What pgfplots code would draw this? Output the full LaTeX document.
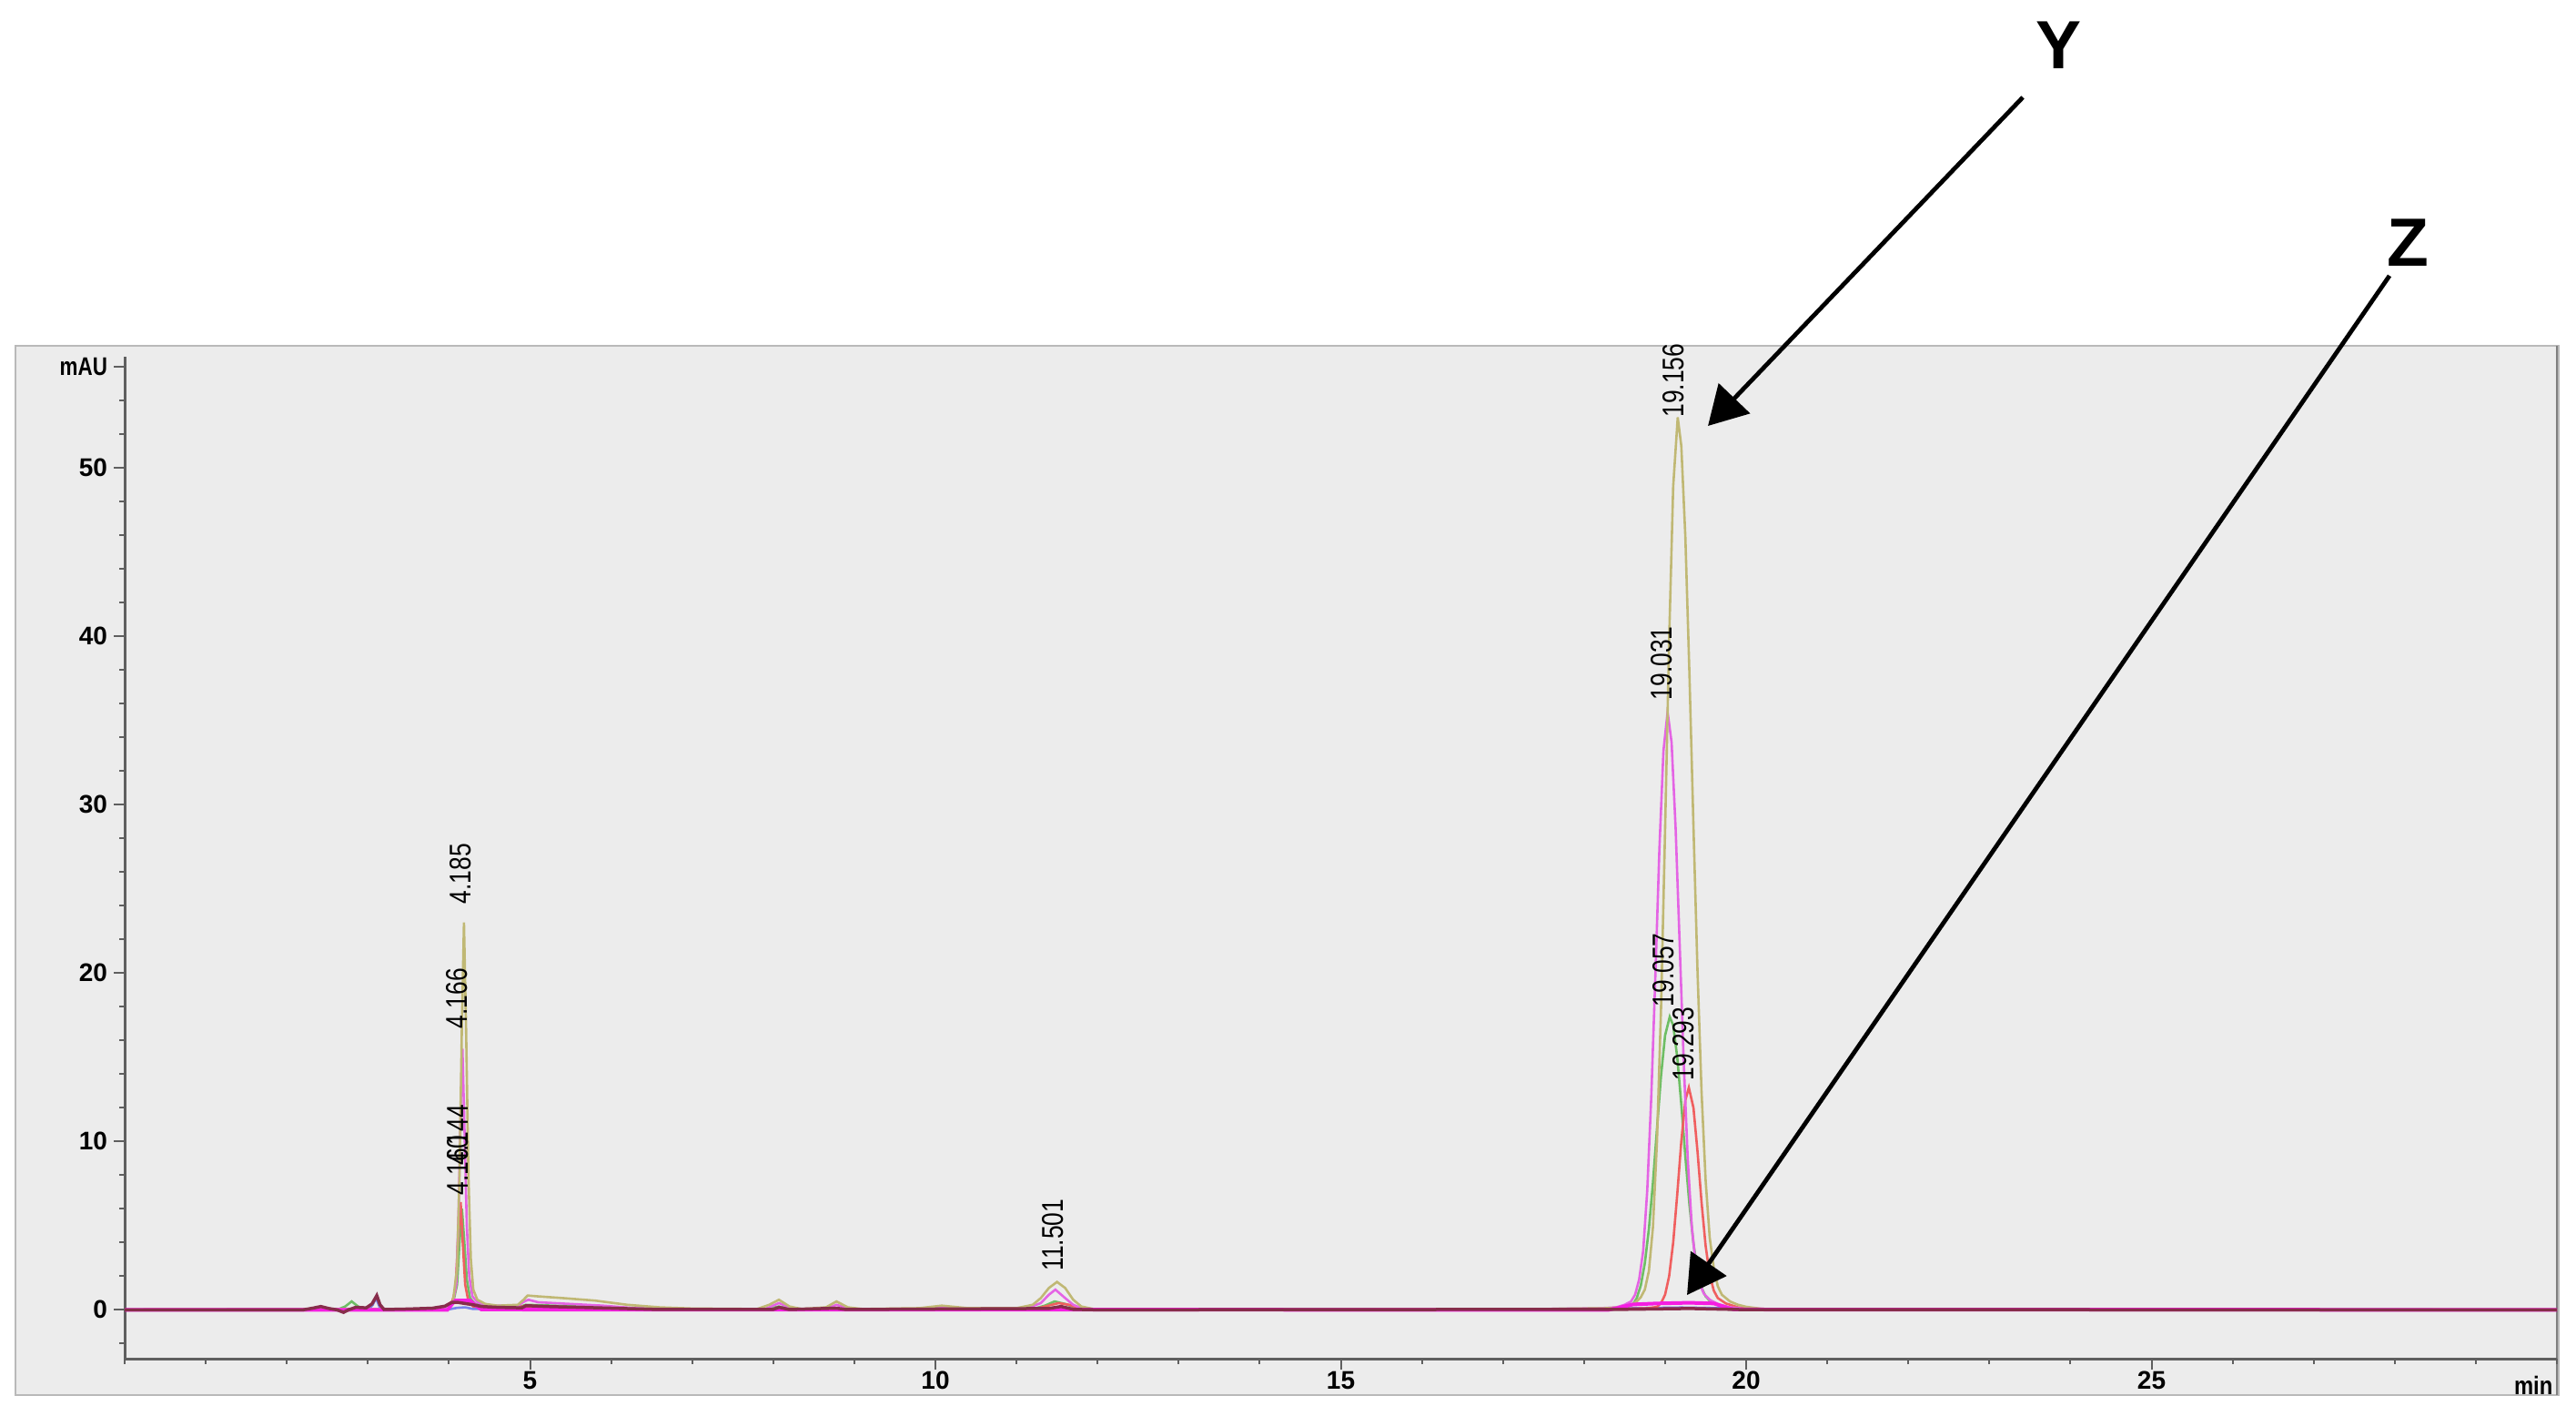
\documentclass[border=0pt]{standalone}
\usepackage{fontspec}
\setmainfont{Liberation Sans}
\usepackage{graphicx}
\usepackage{pgfplots}
\pgfplotsset{compat=1.18}
\usetikzlibrary{arrows.meta}
\definecolor{panel}{RGB}{236,236,236}
\definecolor{panelborder}{RGB}{185,185,185}
\definecolor{olivec}{RGB}{192,184,116}
\definecolor{magc}{RGB}{228,100,228}
\definecolor{greenc}{RGB}{110,190,100}
\definecolor{redc}{RGB}{240,95,95}
\definecolor{bluec}{RGB}{120,130,235}
\definecolor{brightmag}{RGB}{245,30,225}
\definecolor{maroonc}{RGB}{135,45,75}
\definecolor{axisc}{RGB}{95,95,95}
\newcommand{\pl}[1]{\scalebox{0.8}[1]{\fontsize{3.3}{3.8}\selectfont #1}}
\tikzset{xtl/.style={inner sep=0pt, font=\fontsize{2.8}{3.2}\selectfont\bfseries}}
\begin{document}
\begin{tikzpicture}[x=1pt,y=1pt]
\useasboundingbox (0,0) rectangle (283.1,155.5);
\fill[white] (0,0) rectangle (283.1,155.5);
\fill[panel] (1.7,2.2) rectangle (281.2,117.5);
\draw[panelborder, line width=0.15pt] (1.7,2.2) rectangle (281.2,117.5);
\draw[axisc!80, line width=0.25pt] (281.0,2.2) -- (281.0,117.5);
\begin{axis}[
  at={(13.7pt,6.2pt)}, anchor=south west, scale only axis,
  width=267.3pt, height=110.1pt,
  xmin=0, xmax=30, ymin=-2.9, ymax=56.6,
  axis x line*=bottom, axis y line*=left,
  axis line style={-, draw=axisc, line width=0.3pt},
  xtick={5,10,15,20,25}, xticklabels={}, minor xtick={0,1,...,30},
  ytick={0,10,20,30,40,50,56}, yticklabels={0,10,20,30,40,50,\scalebox{0.8}[1]{mAU}},
  minor ytick={-2,0,...,54},
  tick align=outside,
  major tick length=1.2pt, minor tick length=0.6pt,
  tick style={draw=axisc, line width=0.2pt},
  ticklabel style={font=\fontsize{2.8}{3.2}\selectfont\bfseries},
  /pgf/number format/assume math mode=true,
  yticklabel style={inner sep=0pt, anchor=east, xshift=-0.5pt},
  clip=false, no markers,
]
% blue
\addplot[color=bluec, line width=0.26pt] coordinates {
(0,0) (3.0,0) (3.06,0.3) (3.1,0.7) (3.15,0.1) (3.2,0) (4.0,0.03) (4.1,0.12) (4.2,0.15) (4.3,0.05) (5.0,0.05) (6,0) (11.3,0.03) (11.5,0.15) (11.7,0.02) (18.3,0.02) (18.6,0.1) (19.2,0.14) (19.7,0.1) (20.0,0.02) (30,0)};
% green
\addplot[color=greenc, line width=0.26pt] coordinates {
(0,0) (2.62,0) (2.72,0.2) (2.80,0.5) (2.88,0.2) (2.96,0.05) (3.8,0.05) (3.95,0.2) (4.05,0.4) (4.10,1.5) (4.13,4) (4.16,6.0) (4.19,4) (4.22,1.8) (4.26,0.7) (4.32,0.35) (4.5,0.2) (4.85,0.15) (4.95,0.3) (5.3,0.25) (5.9,0.15) (6.5,0.05) (7.9,0.03) (8.07,0.2) (8.25,0.03) (11.2,0.05) (11.35,0.25) (11.47,0.5) (11.6,0.35) (11.75,0.1) (11.9,0) (17.5,0.05) (18.3,0.08) (18.5,0.12) (18.60,0.3) (18.65,0.69) (18.70,1.44) (18.75,2.76) (18.80,4.79) (18.85,7.53) (18.90,10.75) (18.95,13.9) (19.00,16.3) (19.057,17.4) (19.10,16.9) (19.15,15.0) (19.20,12.2) (19.25,9.1) (19.30,6.26) (19.35,3.94) (19.40,2.3) (19.45,1.3) (19.50,0.8) (19.55,0.55) (19.65,0.3) (19.8,0.12) (20.0,0.03) (20.5,0) (30,0)};
% red
\addplot[color=redc, line width=0.26pt] coordinates {
(0,0) (3.8,0.05) (3.95,0.2) (4.04,0.5) (4.08,1.2) (4.11,4) (4.144,6.4) (4.17,4) (4.20,1.5) (4.24,0.5) (4.30,0.2) (4.5,0.15) (4.95,0.2) (5.3,0.15) (6.0,0.05) (7,0) (11.2,0.02) (11.35,0.2) (11.52,0.4) (11.65,0.3) (11.78,0.1) (11.9,0) (17.5,0.03) (18.5,0.06) (18.80,0.1) (18.90,0.18) (18.95,0.4) (19.00,0.9) (19.05,2.0) (19.10,4.0) (19.15,6.86) (19.20,10.0) (19.25,12.45) (19.293,13.2) (19.35,12.0) (19.40,9.4) (19.45,6.37) (19.50,3.8) (19.55,2.1) (19.60,1.15) (19.65,0.7) (19.75,0.38) (19.9,0.15) (20.1,0.04) (20.5,0) (30,0)};
% magenta
\addplot[color=magc, line width=0.26pt] coordinates {
(0,0) (3.8,0.05) (3.95,0.2) (4.05,0.5) (4.09,1.5) (4.12,6) (4.145,12) (4.166,15.5) (4.19,11) (4.22,5) (4.25,2) (4.29,0.8) (4.35,0.45) (4.5,0.25) (4.85,0.25) (4.93,0.5) (4.98,0.6) (5.1,0.45) (5.5,0.35) (5.9,0.25) (6.3,0.1) (6.8,0.05) (7.9,0.05) (8.07,0.4) (8.25,0.05) (8.65,0.05) (8.78,0.3) (8.95,0.05) (9.8,0.05) (10.08,0.15) (10.4,0.05) (11.1,0.05) (11.3,0.4) (11.4,0.9) (11.48,1.2) (11.6,0.7) (11.7,0.3) (11.8,0.1) (11.9,0.05) (12.3,0) (17.5,0.05) (18.2,0.1) (18.4,0.15) (18.5,0.3) (18.58,0.5) (18.63,0.9) (18.68,1.8) (18.73,3.5) (18.78,7.1) (18.83,12.7) (18.88,19.8) (18.93,27.4) (18.98,33.2) (19.031,35.5) (19.08,33.7) (19.13,28.6) (19.18,21.7) (19.23,14.7) (19.28,8.9) (19.33,4.9) (19.38,2.6) (19.43,1.5) (19.48,0.95) (19.55,0.6) (19.65,0.35) (19.8,0.15) (20.0,0.05) (20.5,0) (30,0)};
% olive
\addplot[color=olivec, line width=0.26pt] coordinates {
(0,0) (3.8,0.05) (3.95,0.2) (4.05,0.5) (4.10,2.5) (4.13,8) (4.16,17) (4.185,23.0) (4.21,17) (4.24,8) (4.27,3) (4.30,1.2) (4.35,0.6) (4.45,0.35) (4.6,0.25) (4.85,0.3) (4.92,0.6) (4.97,0.85) (5.1,0.8) (5.4,0.7) (5.8,0.55) (6.2,0.3) (6.6,0.15) (7.0,0.08) (7.8,0.05) (7.95,0.3) (8.07,0.6) (8.2,0.2) (8.35,0.05) (8.65,0.15) (8.78,0.5) (8.92,0.15) (9.1,0.05) (9.8,0.1) (10.08,0.25) (10.4,0.1) (11.0,0.1) (11.2,0.3) (11.3,0.7) (11.4,1.3) (11.5,1.66) (11.6,1.3) (11.7,0.6) (11.8,0.2) (11.95,0.05) (12.5,0) (17.5,0.05) (18.3,0.1) (18.5,0.2) (18.6,0.35) (18.65,0.5) (18.70,0.75) (18.75,1.2) (18.80,2.3) (18.85,4.9) (18.90,10.0) (18.95,17.9) (19.00,28.5) (19.05,39.8) (19.10,48.9) (19.156,53.0) (19.20,51.3) (19.25,45.9) (19.30,37.8) (19.35,28.7) (19.40,20.1) (19.45,12.9) (19.50,7.7) (19.55,4.3) (19.60,2.5) (19.65,1.4) (19.70,0.9) (19.80,0.5) (19.90,0.3) (20.0,0.18) (20.2,0.06) (20.5,0.02) (30,0)};
% bright magenta
\addplot[color=brightmag, line width=0.4pt] coordinates {
(0,0) (3.98,0) (4.04,0.35) (4.08,0.55) (4.26,0.55) (4.32,0.3) (4.4,0.02) (18.3,0) (18.45,0.15) (18.6,0.32) (18.9,0.38) (19.3,0.42) (19.6,0.38) (19.72,0.2) (19.85,0.02) (30,0)};
% maroon baseline
\addplot[color=maroonc, line width=0.35pt] coordinates {
(0,0) (2.2,0) (2.32,0.1) (2.42,0.2) (2.52,0.08) (2.62,0) (2.70,-0.15) (2.76,0) (2.85,0.15) (2.98,0.12) (3.05,0.35) (3.11,0.85) (3.15,0.3) (3.2,0.02) (3.5,0.05) (3.8,0.1) (3.95,0.22) (4.04,0.45) (4.1,0.45) (4.3,0.3) (4.4,0.2) (4.6,0.15) (4.9,0.12) (4.95,0.25) (5.2,0.2) (6.0,0.1) (6.6,0.02) (8.0,0.03) (8.07,0.15) (8.2,0.02) (8.78,0.1) (8.9,0.02) (11.4,0.08) (11.55,0.2) (11.7,0.03) (12,0) (18.5,0.03) (19.3,0.08) (20,0.01) (30,0)};
% x tick labels
\node[xtl] at (axis cs:5,-4.2) {5};
\node[xtl] at (axis cs:10,-4.2) {10};
\node[xtl] at (axis cs:15,-4.2) {15};
\node[xtl] at (axis cs:20,-4.2) {20};
\node[xtl] at (axis cs:25,-4.2) {25};
% peak labels
\node[rotate=90, anchor=west, inner sep=0pt] at (axis cs:4.14,24.0) {\pl{4.185}};
\node[rotate=90, anchor=west, inner sep=0pt] at (axis cs:4.10,16.6) {\pl{4.166}};
\node[rotate=90, anchor=west, inner sep=0pt] at (axis cs:4.11,6.7) {\pl{4.160}};
\node[rotate=90, anchor=west, inner sep=0pt] at (axis cs:4.11,8.5) {\pl{4.144}};
\node[rotate=90, anchor=west, inner sep=0pt] at (axis cs:11.45,2.2) {\pl{11.501}};
\node[rotate=90, anchor=west, inner sep=0pt] at (axis cs:19.10,52.9) {\pl{19.156}};
\node[rotate=90, anchor=west, inner sep=0pt] at (axis cs:18.96,36.1) {\pl{19.031}};
\node[rotate=90, anchor=west, inner sep=0pt] at (axis cs:18.98,17.9) {\pl{19.057}};
\node[rotate=90, anchor=west, inner sep=0pt] at (axis cs:19.23,13.5) {\pl{19.293}};
\node[anchor=east, inner sep=0pt, font=\fontsize{2.8}{3.2}\selectfont\bfseries] at (axis cs:29.97,-4.5) {\scalebox{0.85}[1]{min}};
\end{axis}
\draw[line width=0.48pt, -{Triangle[length=4.2pt,width=4.7pt]}] (222.3,144.8) -- (187.7,108.7);
\draw[line width=0.48pt, -{Triangle[length=4.2pt,width=4.7pt]}] (262.6,125.2) -- (185.4,13.2);
\node[inner sep=0pt, font=\fontsize{7.5}{9}\selectfont\bfseries] at (226.2,150.5) {Y};
\node[inner sep=0pt, font=\fontsize{7.5}{9}\selectfont\bfseries] at (264.6,128.8) {Z};
\end{tikzpicture}
\end{document}
